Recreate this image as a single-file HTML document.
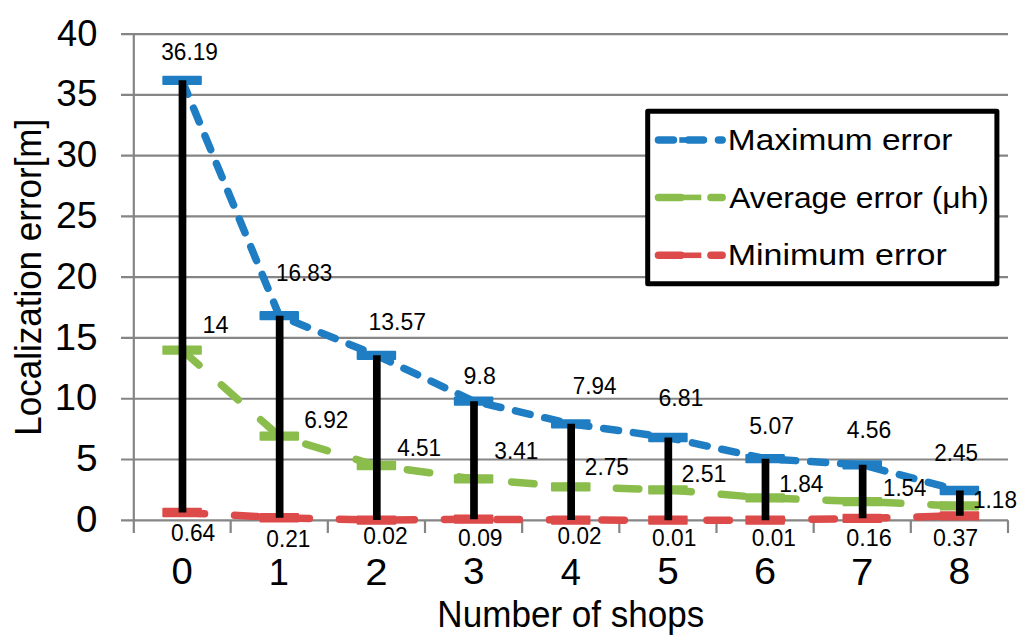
<!DOCTYPE html><html><head><meta charset="utf-8"><style>html,body{margin:0;padding:0;background:#fff;width:1024px;height:641px;overflow:hidden}svg{display:block}text{font-family:"Liberation Sans",sans-serif;fill:#000}</style></head><body>
<svg width="1024" height="641" viewBox="0 0 1024 641">
<rect width="1024" height="641" fill="#fff"/>
<path d="M121,520.30H1008 M121,459.52H1008 M121,398.74H1008 M121,337.96H1008 M121,277.18H1008 M121,216.40H1008 M121,155.62H1008 M121,94.84H1008 M121,34.06H1008 M133.80,34V533 M230.67,520.30V533 M327.83,520.30V533 M425.00,520.30V533 M522.17,520.30V533 M619.33,520.30V533 M716.50,520.30V533 M813.67,520.30V533 M910.83,520.30V533 M1008.00,520.30V533" stroke="#858585" stroke-width="2.2" fill="none"/>
<path d="M182.08,80.37 L279.25,315.71 L376.42,355.34 L473.58,401.17 L570.75,423.78 L667.92,437.52 L765.08,458.67 L862.25,464.87 L959.42,490.52" stroke="#1f7dc3" stroke-width="7.5" fill="none" stroke-linecap="round" stroke-linejoin="round" stroke-dasharray="15 15" stroke-dashoffset="0"/><rect x="162.33" y="75.72" width="39.5" height="9.3" rx="1" fill="#1f7dc3"/><rect x="259.50" y="311.06" width="39.5" height="9.3" rx="1" fill="#1f7dc3"/><rect x="356.67" y="350.69" width="39.5" height="9.3" rx="1" fill="#1f7dc3"/><rect x="453.83" y="396.52" width="39.5" height="9.3" rx="1" fill="#1f7dc3"/><rect x="551.00" y="419.13" width="39.5" height="9.3" rx="1" fill="#1f7dc3"/><rect x="648.17" y="432.87" width="39.5" height="9.3" rx="1" fill="#1f7dc3"/><rect x="745.33" y="454.02" width="39.5" height="9.3" rx="1" fill="#1f7dc3"/><rect x="842.50" y="460.22" width="39.5" height="9.3" rx="1" fill="#1f7dc3"/><rect x="939.67" y="485.87" width="39.5" height="9.3" rx="1" fill="#1f7dc3"/>
<path d="M182.08,350.12 L279.25,436.18 L376.42,465.48 L473.58,478.85 L570.75,486.87 L667.92,489.79 L765.08,497.93 L862.25,501.58 L959.42,505.96" stroke="#8bbd4c" stroke-width="7.5" fill="none" stroke-linecap="round" stroke-linejoin="round" stroke-dasharray="22.5 30" stroke-dashoffset="0"/><rect x="162.33" y="345.47" width="39.5" height="9.3" rx="1" fill="#8bbd4c"/><rect x="259.50" y="431.53" width="39.5" height="9.3" rx="1" fill="#8bbd4c"/><rect x="356.67" y="460.83" width="39.5" height="9.3" rx="1" fill="#8bbd4c"/><rect x="453.83" y="474.20" width="39.5" height="9.3" rx="1" fill="#8bbd4c"/><rect x="551.00" y="482.22" width="39.5" height="9.3" rx="1" fill="#8bbd4c"/><rect x="648.17" y="485.14" width="39.5" height="9.3" rx="1" fill="#8bbd4c"/><rect x="745.33" y="493.28" width="39.5" height="9.3" rx="1" fill="#8bbd4c"/><rect x="842.50" y="496.93" width="39.5" height="9.3" rx="1" fill="#8bbd4c"/><rect x="939.67" y="501.31" width="39.5" height="9.3" rx="1" fill="#8bbd4c"/>
<path d="M182.08,512.52 L279.25,517.75 L376.42,520.06 L473.58,519.21 L570.75,520.06 L667.92,520.18 L765.08,520.18 L862.25,518.36 L959.42,515.80" stroke="#dd4a4a" stroke-width="7.5" fill="none" stroke-linecap="round" stroke-linejoin="round" stroke-dasharray="22.5 30" stroke-dashoffset="0"/><rect x="162.33" y="507.87" width="39.5" height="9.3" rx="1" fill="#dd4a4a"/><rect x="259.50" y="513.10" width="39.5" height="9.3" rx="1" fill="#dd4a4a"/><rect x="356.67" y="515.41" width="39.5" height="9.3" rx="1" fill="#dd4a4a"/><rect x="453.83" y="514.56" width="39.5" height="9.3" rx="1" fill="#dd4a4a"/><rect x="551.00" y="515.41" width="39.5" height="9.3" rx="1" fill="#dd4a4a"/><rect x="648.17" y="515.53" width="39.5" height="9.3" rx="1" fill="#dd4a4a"/><rect x="745.33" y="515.53" width="39.5" height="9.3" rx="1" fill="#dd4a4a"/><rect x="842.50" y="513.71" width="39.5" height="9.3" rx="1" fill="#dd4a4a"/><rect x="939.67" y="511.15" width="39.5" height="9.3" rx="1" fill="#dd4a4a"/>
<path d="M182.48,80.37V512.52 M279.65,315.71V517.75 M376.82,355.34V520.06 M473.98,401.17V519.21 M571.15,423.78V520.06 M668.32,437.52V520.18 M765.48,458.67V520.18 M862.65,464.87V518.36 M959.82,490.52V515.80" stroke="#000" stroke-width="7.7" fill="none"/>
<rect x="647.7" y="111.3" width="349.2" height="172.4" fill="#fff" stroke="#000" stroke-width="5" stroke-linejoin="round"/>
<rect x="679.3" y="137.20" width="22" height="5.6" fill="#1f7dc3"/>
<path d="M654.7,140.00H722.15" stroke="#1f7dc3" stroke-width="7.5" stroke-linecap="round" stroke-dasharray="15 15" stroke-dashoffset="-3.75"/>
<rect x="679.3" y="194.60" width="22" height="5.6" fill="#8bbd4c"/>
<path d="M654.7,197.40H722.15" stroke="#8bbd4c" stroke-width="7.5" stroke-linecap="round" stroke-dasharray="22.5 30" stroke-dashoffset="-3.75"/>
<rect x="679.3" y="252.50" width="22" height="5.6" fill="#dd4a4a"/>
<path d="M654.7,255.30H722.15" stroke="#dd4a4a" stroke-width="7.5" stroke-linecap="round" stroke-dasharray="22.5 30" stroke-dashoffset="-3.75"/>
<text x="76.00" y="531.84" font-size="36.72" textLength="21.41" lengthAdjust="spacingAndGlyphs">0</text>
<text x="75.95" y="471.06" font-size="37.26" textLength="21.58" lengthAdjust="spacingAndGlyphs">5</text>
<text x="54.89" y="410.28" font-size="36.72" textLength="42.50" lengthAdjust="spacingAndGlyphs">10</text>
<text x="54.88" y="349.50" font-size="37.26" textLength="42.63" lengthAdjust="spacingAndGlyphs">15</text>
<text x="55.93" y="288.72" font-size="36.72" textLength="41.43" lengthAdjust="spacingAndGlyphs">20</text>
<text x="55.92" y="227.94" font-size="36.72" textLength="41.55" lengthAdjust="spacingAndGlyphs">25</text>
<text x="56.40" y="167.16" font-size="36.72" textLength="40.94" lengthAdjust="spacingAndGlyphs">30</text>
<text x="56.39" y="106.38" font-size="36.72" textLength="41.06" lengthAdjust="spacingAndGlyphs">35</text>
<text x="56.97" y="45.60" font-size="36.72" textLength="40.35" lengthAdjust="spacingAndGlyphs">40</text>
<text x="171.44" y="584.15" font-size="36.02" textLength="21.29" lengthAdjust="spacingAndGlyphs">0</text>
<text x="268.69" y="584.50" font-size="37.06" textLength="20.12" lengthAdjust="spacingAndGlyphs">1</text>
<text x="365.25" y="584.50" font-size="36.52" textLength="22.34" lengthAdjust="spacingAndGlyphs">2</text>
<text x="462.96" y="584.15" font-size="36.02" textLength="21.47" lengthAdjust="spacingAndGlyphs">3</text>
<text x="560.77" y="584.50" font-size="37.06" textLength="20.20" lengthAdjust="spacingAndGlyphs">4</text>
<text x="657.22" y="584.14" font-size="36.55" textLength="21.47" lengthAdjust="spacingAndGlyphs">5</text>
<text x="753.92" y="584.15" font-size="36.02" textLength="22.06" lengthAdjust="spacingAndGlyphs">6</text>
<text x="851.04" y="584.50" font-size="37.06" textLength="22.39" lengthAdjust="spacingAndGlyphs">7</text>
<text x="948.57" y="584.15" font-size="36.02" textLength="21.69" lengthAdjust="spacingAndGlyphs">8</text>
<text x="161.24" y="59.67" font-size="23.30" textLength="56.74" lengthAdjust="spacingAndGlyphs">36.19</text>
<text x="276.03" y="280.82" font-size="23.30" textLength="56.36" lengthAdjust="spacingAndGlyphs">16.83</text>
<text x="368.45" y="330.27" font-size="23.30" textLength="57.51" lengthAdjust="spacingAndGlyphs">13.57</text>
<text x="463.61" y="383.62" font-size="23.30" textLength="32.19" lengthAdjust="spacingAndGlyphs">9.8</text>
<text x="572.85" y="394.27" font-size="23.30" textLength="43.61" lengthAdjust="spacingAndGlyphs">7.94</text>
<text x="658.53" y="405.77" font-size="23.30" textLength="44.90" lengthAdjust="spacingAndGlyphs">6.81</text>
<text x="749.28" y="434.02" font-size="23.30" textLength="44.67" lengthAdjust="spacingAndGlyphs">5.07</text>
<text x="846.67" y="438.02" font-size="23.30" textLength="44.63" lengthAdjust="spacingAndGlyphs">4.56</text>
<text x="934.27" y="460.52" font-size="23.30" textLength="43.67" lengthAdjust="spacingAndGlyphs">2.45</text>
<text x="202.41" y="332.75" font-size="23.98" textLength="26.07" lengthAdjust="spacingAndGlyphs">14</text>
<text x="304.25" y="428.42" font-size="23.30" textLength="44.09" lengthAdjust="spacingAndGlyphs">6.92</text>
<text x="397.28" y="455.52" font-size="23.65" textLength="43.82" lengthAdjust="spacingAndGlyphs">4.51</text>
<text x="494.34" y="459.27" font-size="23.30" textLength="44.07" lengthAdjust="spacingAndGlyphs">3.41</text>
<text x="584.87" y="474.52" font-size="23.30" textLength="43.88" lengthAdjust="spacingAndGlyphs">2.75</text>
<text x="681.54" y="481.52" font-size="23.30" textLength="44.89" lengthAdjust="spacingAndGlyphs">2.51</text>
<text x="779.27" y="492.02" font-size="23.30" textLength="44.19" lengthAdjust="spacingAndGlyphs">1.84</text>
<text x="883.06" y="495.82" font-size="23.65" textLength="43.19" lengthAdjust="spacingAndGlyphs">1.54</text>
<text x="973.03" y="507.62" font-size="23.30" textLength="43.95" lengthAdjust="spacingAndGlyphs">1.18</text>
<text x="171.01" y="540.62" font-size="23.30" textLength="44.25" lengthAdjust="spacingAndGlyphs">0.64</text>
<text x="266.32" y="546.77" font-size="23.30" textLength="44.09" lengthAdjust="spacingAndGlyphs">0.21</text>
<text x="363.31" y="543.52" font-size="23.30" textLength="44.34" lengthAdjust="spacingAndGlyphs">0.02</text>
<text x="458.11" y="545.52" font-size="23.30" textLength="44.47" lengthAdjust="spacingAndGlyphs">0.09</text>
<text x="557.62" y="543.52" font-size="23.30" textLength="43.81" lengthAdjust="spacingAndGlyphs">0.02</text>
<text x="652.11" y="545.77" font-size="23.30" textLength="44.30" lengthAdjust="spacingAndGlyphs">0.01</text>
<text x="751.82" y="545.77" font-size="23.30" textLength="44.09" lengthAdjust="spacingAndGlyphs">0.01</text>
<text x="846.29" y="545.77" font-size="23.30" textLength="45.54" lengthAdjust="spacingAndGlyphs">0.16</text>
<text x="933.10" y="545.77" font-size="23.30" textLength="45.07" lengthAdjust="spacingAndGlyphs">0.37</text>
<text x="727.86" y="149.71" font-size="29.82" textLength="224.60" lengthAdjust="spacingAndGlyphs">Maximum error</text>
<text x="729.19" y="207.50" font-size="29.82" textLength="259.68" lengthAdjust="spacingAndGlyphs">Average error (μh)</text>
<text x="727.71" y="264.71" font-size="29.96" textLength="219.10" lengthAdjust="spacingAndGlyphs">Minimum error</text>
<text x="437.37" y="627.25" font-size="37.43" textLength="266.99" lengthAdjust="spacingAndGlyphs">Number of shops</text>
<text x="41.25" y="435.67" font-size="36.56" textLength="316.91" lengthAdjust="spacingAndGlyphs" transform="rotate(-90 41.25 435.67)">Localization error[m]</text>
</svg></body></html>
